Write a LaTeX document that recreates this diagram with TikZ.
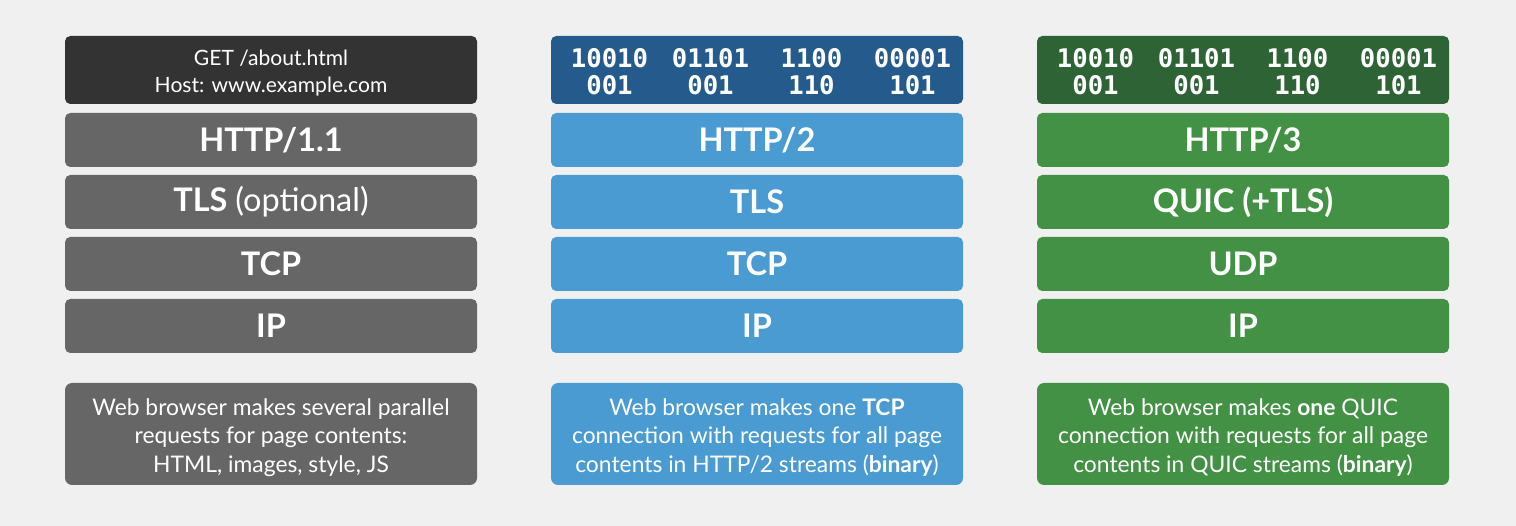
\documentclass[tikz,border=0pt]{standalone}
\usepackage{fontspec}
\setmainfont{Lato}
\setmonofont{DejaVu Sans Mono}
\usepackage{array}
\usetikzlibrary{positioning}
\definecolor{bgc}{RGB}{240,240,240}
\definecolor{oldtop}{RGB}{51,51,51}
\definecolor{oldc}{RGB}{102,102,102}
\definecolor{h2top}{RGB}{37,91,140}
\definecolor{h2c}{RGB}{74,155,209}
\definecolor{h3top}{RGB}{46,99,54}
\definecolor{h3c}{RGB}{66,145,68}
\tikzset{
  head/.style={
    rectangle, rounded corners=3pt, draw=none, text=white,
    minimum width=8.24cm, minimum height=1.36cm, inner sep=0pt, align=center
  },
  bitfont/.style={font=\fontsize{14.6}{15.2}\selectfont\ttfamily\bfseries},
  layer/.style={
    rectangle, rounded corners=3pt, draw=none, text=white,
    minimum width=8.24cm, minimum height=1.08cm, inner sep=0pt,
    font=\fontsize{18.5}{21}\selectfont\bfseries
  },
  note/.style={
    rectangle, rounded corners=4pt, draw=none, text=white,
    minimum width=8.24cm, minimum height=2.04cm, inner sep=0pt,
    align=center, font=\fontsize{13}{16.2}\selectfont
  },
}
% centred lines, drawn a little lower than the box centre
\newcommand{\dropby}[2]{%
  \raisebox{-#1}[\height][\depth]{\begin{tabular}{@{}c@{}}#2\end{tabular}}}
\newcommand{\bits}{%
  \raisebox{-0.1cm}[\height][\depth]{\renewcommand{\arraystretch}{0.93}%
  \begin{tabular}{@{\hspace{0.16cm}}*{4}{>{\centering\arraybackslash}p{2.02cm}@{}}}
    10010 & 01101 & 1100 & 00001\\
    001 & 001 & 110 & 101
  \end{tabular}}}

\begin{document}
\begin{tikzpicture}
  \fill[bgc] (0,0) rectangle (30.32,-10.52);
  \useasboundingbox (0,0) rectangle (30.32,-10.52);

  % HTTP/1.1 stack
  \node[head, fill=oldtop, font=\fontsize{12}{15.3}\selectfont] (gethead) at (5.42,-1.40)
    {\dropby{0.08cm}{GET /about.html\\Host: www.example.com}};
  \node[layer, fill=oldc] (http1) at (5.42,-2.80) {HTTP/1.1};
  \node[layer, fill=oldc] (tls1) at (5.42,-4.04) {TLS \mdseries(optional)};
  \node[layer, fill=oldc] (tcp1) at (5.42,-5.28) {TCP};
  \node[layer, fill=oldc] (ip1) at (5.42,-6.52) {IP};
  \node[note, fill=oldc] (note1) at (5.42,-8.68)
    {\dropby{0.08cm}{Web browser makes several parallel\\requests for page contents:\\HTML, images, style, JS}};

  % HTTP/2 stack
  \node[head, fill=h2top, bitfont] (bin2) at (15.14,-1.40) {\bits};
  \node[layer, fill=h2c] (http2) at (15.14,-2.80) {HTTP/2};
  \node[layer, fill=h2c] (tls2) at (15.14,-4.04) {TLS};
  \node[layer, fill=h2c] (tcp2) at (15.14,-5.28) {TCP};
  \node[layer, fill=h2c] (ip2) at (15.14,-6.52) {IP};
  \node[note, fill=h2c] (note2) at (15.14,-8.68)
    {\dropby{0.08cm}{Web browser makes one \textbf{TCP}\\connection with requests for all page\\contents in HTTP/2 streams (\textbf{binary})}};

  % HTTP/3 stack
  \node[head, fill=h3top, bitfont] (bin3) at (24.86,-1.40) {\bits};
  \node[layer, fill=h3c] (http3) at (24.86,-2.80) {HTTP/3};
  \node[layer, fill=h3c] (quic3) at (24.86,-4.04) {QUIC (+TLS)};
  \node[layer, fill=h3c] (udp3) at (24.86,-5.28) {UDP};
  \node[layer, fill=h3c] (ip3) at (24.86,-6.52) {IP};
  \node[note, fill=h3c] (note3) at (24.86,-8.68)
    {\dropby{0.08cm}{Web browser makes \textbf{one} QUIC\\connection with requests for all page\\contents in QUIC streams (\textbf{binary})}};

\end{tikzpicture}
\end{document}
